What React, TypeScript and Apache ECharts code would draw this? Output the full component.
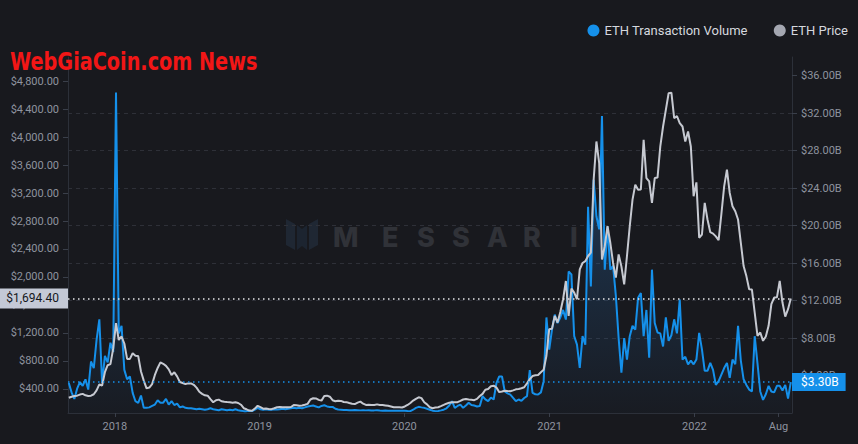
import React, { useEffect, useRef } from "react";
import * as echarts from "echarts";

// Weekly ETH price (USD), first point 2017-09-07
const ethPrice: number[] = [
  275, 290, 300, 305, 320, 330, 310, 300, 305, 325,
  380, 465, 450, 640, 740, 755, 980, 1340, 1100, 1150,
  1050, 830, 830, 910, 875, 870, 650, 520, 410, 420,
  470, 600, 700, 780, 760, 730, 680, 600, 638, 580,
  500, 485, 470, 480, 480, 460, 420, 360, 330, 310,
  305, 255, 211, 240, 248, 225, 219, 215, 212, 205,
  210, 200, 175, 125, 110, 92, 88, 120, 160, 140,
  118, 120, 115, 112, 125, 140, 142, 140, 138, 140,
  142, 170, 168, 162, 165, 175, 187, 250, 268, 265,
  245, 234, 300, 305, 290, 240, 225, 232, 230, 215,
  212, 200, 190, 185, 205, 220, 190, 172, 175, 172,
  172, 180, 172, 170, 165, 160, 150, 140, 138, 140,
  135, 150, 172, 200, 234, 260, 282, 270, 211, 180,
  140, 125, 135, 140, 155, 172, 190, 205, 211, 210,
  211, 230, 250, 258, 250, 245, 240, 258, 300, 330,
  390, 400, 440, 447, 420, 355, 365, 376, 370, 367,
  380, 395, 400, 410, 425, 480, 540, 585, 595, 600,
  640, 675, 875, 1255, 1262, 1444, 1350, 1500, 1682, 1943,
  1444, 1834, 1777, 1682, 2109, 2200, 2227, 2300, 2347, 3390,
  3936, 3628, 2251, 2441, 2725, 2489, 2200, 1991, 2323, 2150,
  1895, 2300, 2725, 3106, 3319, 3248, 3250, 3960, 3414, 3366,
  3058, 3414, 3420, 3865, 4150, 4387, 4625, 4634, 4269, 4300,
  4198, 4150, 3936, 4078, 3865, 3153, 3352, 2560, 2607, 3058,
  2821, 2640, 2620, 2580, 2526, 2900, 3295, 3533, 3201, 3010,
  2939, 2821, 2489, 2156, 2013, 1824, 1820, 1492, 1159, 1207,
  1088, 1150, 1302, 1611, 1706, 1710, 1943, 1635, 1435, 1540, 1694.4,
];

// Weekly on-chain transaction volume (billions USD)
const ethVolume: number[] = [
  3.2, 2.2, 1.5, 2.6, 3.3, 2.9, 3.6, 2.5, 5.5, 4.8,
  7.8, 10.0, 3.2, 6.1, 5.4, 7.5, 6.5, 34.2, 8.5, 9.3,
  4.6, 3.6, 3.9, 2.15, 1.26, 1.09, 1.87, 0.55, 0.55, 0.6,
  0.75, 0.9, 1.37, 1.1, 1.1, 1.5, 0.9, 1.26, 0.85, 1.0,
  0.6, 0.7, 0.55, 0.5, 0.5, 0.45, 0.4, 0.45, 0.4, 0.35,
  0.4, 0.5, 0.4, 0.35, 0.3, 0.4, 0.35, 0.3, 0.35, 0.3,
  0.4, 0.3, 0.25, 0.2, 0.2, 0.25, 0.2, 0.35, 0.55, 0.4,
  0.35, 0.4, 0.35, 0.35, 0.4, 0.38, 0.4, 0.45, 0.4, 0.45,
  0.5, 0.55, 0.5, 0.55, 0.5, 0.6, 0.7, 0.75, 0.8, 0.7,
  0.6, 0.75, 0.83, 0.7, 0.65, 0.65, 0.45, 0.37, 0.35, 0.33,
  0.32, 0.3, 0.3, 0.32, 0.3, 0.28, 0.3, 0.28, 0.3, 0.27,
  0.28, 0.3, 0.27, 0.25, 0.27, 0.25, 0.24, 0.25, 0.24, 0.25,
  0.24, 0.25, 0.22, 0.2, 0.35, 0.55, 0.66, 0.6, 0.55, 0.45,
  0.35, 0.25, 0.2, 0.22, 0.28, 0.35, 0.5, 0.8, 1.26, 0.55,
  0.75, 0.9, 0.55, 0.8, 1.09, 0.85, 0.8, 0.7, 0.75, 1.8,
  1.45, 1.26, 1.65, 1.44, 3.2, 3.9, 3.9, 2.3, 2.1, 1.97,
  1.62, 1.26, 1.44, 1.3, 1.6, 1.8, 4.57, 2.15, 2.0, 1.97,
  2.2, 3.4, 10.2, 6.77, 8.9, 10.5, 9.6, 10.2, 11.0, 9.97,
  15.1, 14.8, 8.2, 7.3, 4.82, 8.2, 7.3, 22.0, 13.5, 24.9,
  21.0, 19.6, 31.7, 15.3, 19.9, 15.3, 15.7, 12.5, 8.0, 4.3,
  8.0, 5.7, 8.2, 9.3, 8.9, 12.3, 12.8, 8.2, 11.0, 5.9,
  15.3, 9.6, 8.6, 8.5, 7.1, 10.2, 7.7, 8.3, 10.0, 8.5,
  12.1, 5.7, 6.0, 5.2, 5.6, 5.2, 5.7, 8.55, 6.8, 4.5,
  4.5, 5.35, 4.6, 3.0, 3.4, 4.1, 4.8, 5.35, 3.75, 5.7,
  5.2, 9.3, 5.6, 3.6, 3.0, 2.5, 2.3, 8.2, 5.3, 2.3,
  1.4, 2.0, 2.9, 2.3, 2.2, 2.9, 2.9, 2.4, 3.0, 1.55, 3.3,
];

const seriesStart = Date.UTC(2017, 8, 7);
const weekMs = 7 * 86400000;
const weekDates: number[] = ethPrice.map((_, i) => seriesStart + i * weekMs);

const xTickDates: number[] = [
  Date.UTC(2018, 0, 1),
  Date.UTC(2019, 0, 1),
  Date.UTC(2020, 0, 1),
  Date.UTC(2021, 0, 1),
  Date.UTC(2022, 0, 1),
  Date.UTC(2022, 7, 1),
];
const priceTicks: number[] = [400, 800, 1200, 1600, 2000, 2400, 2800, 3200, 3600, 4000, 4400, 4800];
const volumeTicks: number[] = [4, 8, 12, 16, 20, 24, 28, 32, 36];
const currentPrice = 1694.4;
const currentVolume = 3.3;

const FONT = "Roboto";
const AXIS_TEXT = "#8e939f";
const AXIS_LINE = "#2c3039";
const BLUE = "#1590ea";
const GREY = "#c6c9d1";

const usd2 = (v: number) =>
  "$" + Number(v).toLocaleString("en-US", { minimumFractionDigits: 2, maximumFractionDigits: 2 });

const messariLetters = [
  { t: "M", x: 333 },
  { t: "E", x: 382 },
  { t: "S", x: 417 },
  { t: "S", x: 452 },
  { t: "A", x: 487 },
  { t: "R", x: 523 },
  { t: "I", x: 570 },
];

export default function App() {
  const ref = useRef<HTMLDivElement>(null);
  useEffect(() => {
    if (!ref.current) return;
    const chart = echarts.init(ref.current, null, { renderer: "svg" });
    const option: any = {
      animation: false,
      backgroundColor: "#18191e",
      grid: { left: 68, right: 66, top: 57, bottom: 31, containLabel: false },
      legend: {
        right: 5,
        top: 19,
        icon: "circle",
        itemWidth: 12,
        itemHeight: 12,
        itemGap: 26,
        textStyle: { color: "#d5d8de", fontSize: 13, fontFamily: FONT },
        data: [
          { name: "ETH Transaction Volume", itemStyle: { color: BLUE } },
          { name: "ETH Price", itemStyle: { color: "#a4a7b1" } },
        ],
      },
      xAxis: {
        type: "value",
        min: Date.UTC(2017, 8, 5),
        max: Date.UTC(2022, 8, 4),
        axisLine: { show: true, onZero: false, lineStyle: { color: AXIS_LINE, width: 1 } },
        axisTick: { show: true, length: 4, lineStyle: { color: "#3a3f4a" }, customValues: xTickDates },
        splitLine: { show: false },
        axisLabel: {
          customValues: xTickDates,
          color: AXIS_TEXT,
          fontSize: 11,
          fontFamily: FONT,
          margin: 8,
          formatter: (v: number) => {
            const d = new Date(v);
            return d.getUTCMonth() === 0 ? String(d.getUTCFullYear()) : "Aug";
          },
        },
      },
      yAxis: [
        {
          type: "value",
          position: "left",
          min: 57,
          max: 5143,
          splitLine: { show: false },
          axisLine: { show: true, lineStyle: { color: AXIS_LINE } },
          axisTick: { show: true, length: 5, lineStyle: { color: "#3a3f4a" }, customValues: priceTicks },
          axisLabel: {
            customValues: priceTicks,
            color: AXIS_TEXT,
            fontSize: 11,
            fontFamily: FONT,
            margin: 9,
            formatter: (v: number) => usd2(v),
          },
        },
        {
          type: "value",
          position: "right",
          min: 0,
          max: 38,
          interval: 4,
          splitLine: {
            show: true,
            showMinLine: false,
            showMaxLine: false,
            lineStyle: { color: "#2e3038", type: [4, 4], width: 1 },
          },
          axisLine: { show: true, lineStyle: { color: AXIS_LINE } },
          axisTick: { show: true, length: 5, lineStyle: { color: "#3a3f4a" }, customValues: volumeTicks },
          axisLabel: {
            customValues: volumeTicks,
            color: AXIS_TEXT,
            fontSize: 11,
            fontFamily: FONT,
            margin: 9,
            formatter: (v: number) => "$" + Number(v).toFixed(2) + "B",
          },
        },
      ],
      graphic: [
        ...messariLetters.map((l) => ({
          type: "text",
          x: l.x,
          y: 237,
          z: 0,
          silent: true,
          style: {
            text: l.t,
            fill: "#303238",
            font: '800 27px "Inter"',
            textVerticalAlign: "middle",
          },
        })),
        {
          type: "polygon",
          z: 0,
          silent: true,
          shape: { points: [[286, 219], [295, 224], [295, 250], [286, 245]] },
          style: { fill: "#1f2733" },
        },
        {
          type: "polygon",
          z: 0,
          silent: true,
          shape: { points: [[297, 225], [302, 229], [307, 225], [307, 250], [302, 246], [297, 250]] },
          style: { fill: "#1c2430" },
        },
        {
          type: "polygon",
          z: 0,
          silent: true,
          shape: { points: [[309, 224], [318, 219], [318, 245], [309, 250]] },
          style: { fill: "#1f2733" },
        },
        {
          type: "text",
          x: 10,
          y: 49,
          scaleX: 0.77,
          z: 100,
          silent: true,
          style: {
            text: "WebGiaCoin.com News",
            fill: "#f21616",
            font: 'bold 25px "DejaVu Sans"',
            textVerticalAlign: "top",
          },
        },
      ],
      series: [
        {
          name: "ETH Transaction Volume",
          type: "line",
          yAxisIndex: 1,
          showSymbol: false,
          symbol: "none",
          z: 2,
          data: weekDates.map((d, i) => [d, ethVolume[i]]),
          lineStyle: { color: BLUE, width: 2 },
          itemStyle: { color: BLUE },
          areaStyle: {
            color: new echarts.graphic.LinearGradient(
              0, 57, 0, 413,
              [
                { offset: 0, color: "rgba(40,110,180,0.72)" },
                { offset: 1, color: "rgba(40,110,180,0.04)" },
              ],
              true
            ),
          },
          markLine: {
            silent: true,
            symbol: "none",
            data: [{ yAxis: currentVolume }],
            lineStyle: { color: BLUE, type: [1.5, 3.5], width: 1.5 },
            label: {
              position: "end",
              distance: 0,
              formatter: (p: any) => "$" + Number(p.value).toFixed(2) + "B",
              backgroundColor: BLUE,
              color: "#ffffff",
              fontSize: 12,
              fontFamily: FONT,
              padding: [3, 7, 3, 9],
            },
          },
        },
        {
          name: "ETH Price",
          type: "line",
          yAxisIndex: 0,
          showSymbol: false,
          symbol: "none",
          z: 3,
          data: weekDates.map((d, i) => [d, ethPrice[i]]),
          lineStyle: { color: GREY, width: 2 },
          itemStyle: { color: GREY },
          markLine: {
            silent: true,
            symbol: "none",
            data: [{ yAxis: currentPrice }],
            lineStyle: { color: "#e6e7ea", type: [1.5, 3.5], width: 1.5 },
            label: {
              position: "start",
              distance: 0,
              formatter: (p: any) => usd2(p.value),
              backgroundColor: "#c4c9d6",
              color: "#15171c",
              fontSize: 12,
              fontFamily: FONT,
              padding: [4, 9, 4, 9],
            },
          },
        },
      ],
    };
    chart.setOption(option);
    return () => chart.dispose();
  }, []);
  return (
    <div
      ref={ref}
      style={{ position: "fixed", left: 0, top: 0, width: 858, height: 444, background: "#18191e" }}
    />
  );
}
